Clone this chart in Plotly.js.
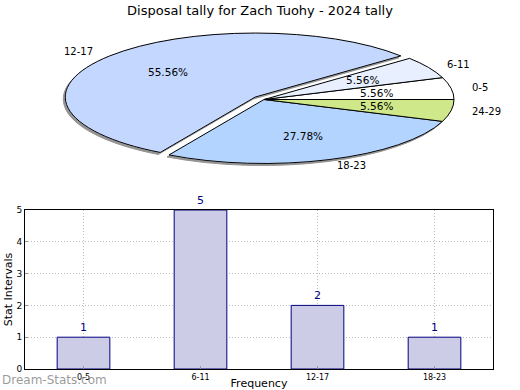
<!DOCTYPE html>
<html><head><meta charset="utf-8">
<script src="https://cdn.plot.ly/plotly-3.0.1.min.js"></script>
<style>html,body{margin:0;padding:0;background:#fff}#chart{width:520px;height:390px}</style>
</head><body><div id="chart"></div>
<script>
const pieLabels = ['0-5', '6-11', '12-17', '18-23', '24-29'];
const pieValues = [1, 1, 10, 5, 1];
const pieColors = ['#ffffff', '#e8f0ff', '#c4d8ff', '#b3d4ff', '#cfe88a'];
const piePull = [0, 0, 0.06, 0, 0];
const barCategories = ['0-5', '6-11', '12-17', '18-23'];
const barValues = [1, 5, 2, 1];
const yTicks = [0, 1, 2, 3, 4, 5];

const FONT = 'DejaVu Sans, sans-serif';
const W = 520, H = 390, M = {l: 25, r: 27, t: 0, b: 21};
const pw = W - M.l - M.r, ph = H - M.t - M.b;
const E = {cx: 264, cy: 99.5, rx: 190, ry: 64};
const pxX = x => (x - M.l) / pw;
const pxY = y => (H - M.b - y) / ph;

const total = pieValues.reduce((a, b) => a + b, 0);
const annotations = [];
let cum = 0;
pieValues.forEach((v, i) => {
  const mid = (cum + v / 2) / total * 2 * Math.PI; cum += v;
  const c = Math.cos(mid), s = Math.sin(mid);
  const p = piePull[i];
  const ox = E.cx + p * E.rx * c, oy = E.cy - p * E.ry * s;
  annotations.push({xref: 'paper', yref: 'paper', x: pxX(ox + 1.1 * E.rx * c), y: pxY(oy - 1.1 * E.ry * s),
    text: pieLabels[i], showarrow: false, xanchor: c > 0 ? 'left' : 'right', yanchor: 'middle',
    font: {family: FONT, size: 10, color: '#000'}});
  annotations.push({xref: 'paper', yref: 'paper', x: pxX(ox + 0.6 * E.rx * c), y: pxY(oy - 0.6 * E.ry * s),
    text: (v / total * 100).toFixed(2) + '%', showarrow: false, xanchor: 'center', yanchor: 'middle',
    font: {family: FONT, size: 10.5, color: '#000'}});
});
annotations.push({xref: 'paper', yref: 'paper', x: pxX(0), y: pxY(380), xanchor: 'left', yanchor: 'middle',
  text: 'Dream-Stats.com', showarrow: false, font: {family: FONT, size: 12, color: 'rgba(120,120,120,0.75)'}});

const data = [
  {type: 'pie', labels: pieLabels, values: pieValues, sort: false, direction: 'counterclockwise', rotation: 70,
   marker: {colors: pieColors, line: {color: '#000', width: 1}}, pull: piePull, textinfo: 'none',
   hoverinfo: 'none', showlegend: false, domain: {x: [0, 1], y: [0.5, 1]}},
  {type: 'bar', x: barCategories, y: barValues, width: 0.45,
   marker: {color: '#ccccE6', line: {color: '#000080', width: 1}},
   text: barValues.map(String), textposition: 'outside', cliponaxis: false,
   textfont: {family: FONT, size: 11, color: '#000080'}, hoverinfo: 'none', showlegend: false}
];

const layout = {
  width: W, height: H, margin: M, paper_bgcolor: '#fff', plot_bgcolor: '#fff',
  font: {family: FONT},
  title: {text: 'Disposal tally for Zach Tuohy - 2024 tally', x: 0.5, xref: 'container', y: 1 - 10 / H, yref: 'container',
    yanchor: 'middle', xanchor: 'center', font: {family: FONT, size: 13, color: '#000'}},
  xaxis: {domain: [0, 1], type: 'category', range: [-0.5, 3.5], showgrid: true, gridcolor: '#bdbdbd', griddash: '1px,2px',
    showline: true, linecolor: '#000', linewidth: 1, mirror: true, ticks: 'inside', ticklen: 3, tickcolor: '#999',
    tickfont: {family: FONT, size: 8, color: '#000'}, zeroline: false,
    title: {text: 'Frequency', font: {family: FONT, size: 11, color: '#000'}, standoff: 15}},
  yaxis: {domain: [0, (H - M.b - 210) / ph], range: [0, 5], tickvals: yTicks, showgrid: true, gridcolor: '#bdbdbd',
    griddash: '1px,2px', showline: true, linecolor: '#000', linewidth: 1, mirror: true, ticks: 'inside', ticklen: 3,
    tickcolor: '#999', tickfont: {family: FONT, size: 9, color: '#000'}, zeroline: false,
    title: {text: 'Stat Intervals', font: {family: FONT, size: 11, color: '#000'}, standoff: 1}},
  annotations: annotations,
  bargap: 0.5
};

Plotly.newPlot('chart', data, layout, {staticPlot: true, displayModeBar: false}).then(gd => {
  const cd0 = gd.calcdata[0][0];
  const r = cd0.r, cx = cd0.cx, cy = cd0.cy;
  const tr = 'translate(' + E.cx + ',' + E.cy + ') scale(' + (E.rx / r) + ',' + (E.ry / r) + ') translate(' + (-cx) + ',' + (-cy) + ')';
  gd.querySelectorAll('.pielayer path.surface').forEach(p => {
    p.setAttribute('transform', tr);
    p.setAttribute('vector-effect', 'non-scaling-stroke');
  });
  const svg = gd.querySelector('svg.main-svg');
  let defs = svg.querySelector('defs');
  const NS = 'http://www.w3.org/2000/svg';
  const f = document.createElementNS(NS, 'filter');
  f.setAttribute('id', 'pieshadow');
  f.setAttribute('x', '-5%'); f.setAttribute('y', '-5%'); f.setAttribute('width', '110%'); f.setAttribute('height', '115%');
  const ds = document.createElementNS(NS, 'feDropShadow');
  ds.setAttribute('dx', '-2'); ds.setAttribute('dy', '2'); ds.setAttribute('stdDeviation', '0.7');
  ds.setAttribute('flood-color', '#666'); ds.setAttribute('flood-opacity', '0.7');
  f.appendChild(ds); defs.appendChild(f);
  gd.querySelectorAll('.pielayer .trace').forEach(g => g.setAttribute('filter', 'url(#pieshadow)'));
});
</script></body></html>
